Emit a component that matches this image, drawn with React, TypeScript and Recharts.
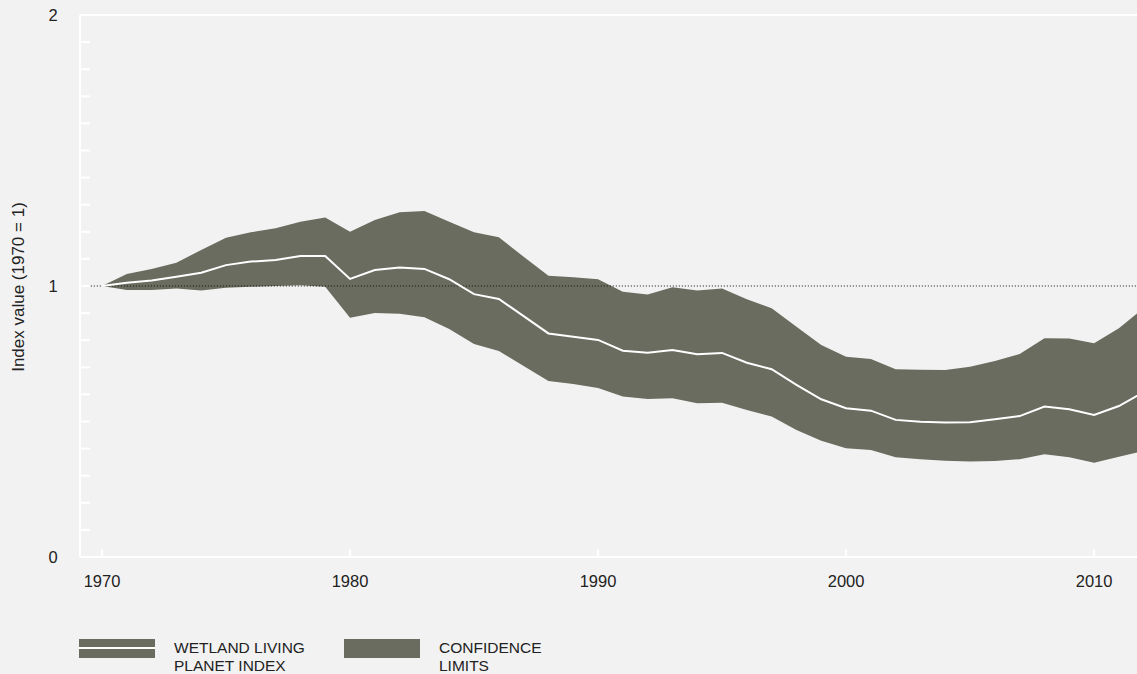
import {
  ComposedChart,
  Area,
  Line,
  XAxis,
  YAxis,
  ReferenceLine
} from "recharts"

// values, one entry per year
const years = [
  1970, 1971, 1972, 1973, 1974, 1975, 1976, 1977, 1978, 1979,
  1980, 1981, 1982, 1983, 1984, 1985, 1986, 1987, 1988, 1989,
  1990, 1991, 1992, 1993, 1994, 1995, 1996, 1997, 1998, 1999,
  2000, 2001, 2002, 2003, 2004, 2005, 2006, 2007, 2008, 2009,
  2010, 2011, 2012
]

const wetlandIndex = [
  1.0, 1.012, 1.02, 1.034, 1.049, 1.077, 1.09, 1.096, 1.111, 1.111,
  1.026, 1.059, 1.068, 1.063, 1.025, 0.97, 0.952, 0.889, 0.825, 0.813,
  0.801, 0.761, 0.754, 0.764, 0.748, 0.753, 0.717, 0.693, 0.635, 0.582,
  0.549, 0.54, 0.506, 0.499, 0.496, 0.497, 0.508, 0.52, 0.555, 0.545,
  0.524, 0.557, 0.608
]

const upperLimit = [
  1.0, 1.044, 1.063, 1.086, 1.133, 1.178, 1.198, 1.213, 1.237, 1.253,
  1.2, 1.244, 1.272, 1.277, 1.237, 1.198, 1.18, 1.108, 1.038, 1.032,
  1.025, 0.979, 0.969, 0.995, 0.983, 0.991, 0.951, 0.918, 0.85, 0.782,
  0.739, 0.731, 0.693, 0.691, 0.69, 0.702, 0.723, 0.749, 0.807, 0.806,
  0.789, 0.844, 0.919
]

const lowerLimit = [
  1.0, 0.985, 0.985, 0.991, 0.983, 0.994, 0.997, 1.0, 1.003, 0.997,
  0.883, 0.9, 0.898, 0.885, 0.841, 0.786, 0.76, 0.705, 0.649, 0.638,
  0.624, 0.592, 0.583, 0.586, 0.567, 0.569, 0.542, 0.518, 0.469, 0.429,
  0.401, 0.395, 0.368, 0.361, 0.355, 0.352, 0.354, 0.361, 0.379, 0.368,
  0.348, 0.37, 0.391
]

const xTicks = [1970, 1980, 1990, 2000, 2010]
const yTicks = [
  0, 0.1, 0.2, 0.3, 0.4, 0.5, 0.6, 0.7, 0.8, 0.9,
  1, 1.1, 1.2, 1.3, 1.4, 1.5, 1.6, 1.7, 1.8, 1.9, 2
]
const yLabels = [0, 1, 2]

const data = years.map((year, i) => ({
  year,
  index: wetlandIndex[i],
  range: [lowerLimit[i], upperLimit[i]]
}))

const BAND = "#696c5e"
const TEXT = "#222"
const FONT = "'Liberation Sans', Arial, Helvetica, sans-serif"
const AXIS_X = 80
const AXIS_BOTTOM = 557

function YTick({ y, payload }: any) {
  const v = payload.value
  return (
    <g>
      <line x1={AXIS_X} x2={AXIS_X + 10} y1={y} y2={y} stroke="#fff" strokeWidth={2} />
      {yLabels.includes(v) && (
        <text
          x={53}
          y={y}
          dy="0.36em"
          textAnchor="middle"
          fill={TEXT}
          fontSize={16.5}
          fontFamily={FONT}
        >
          {v}
        </text>
      )}
    </g>
  )
}

function XTick({ x, payload }: any) {
  return (
    <g>
      <line x1={x} x2={x} y1={AXIS_BOTTOM} y2={AXIS_BOTTOM - 8} stroke="#fff" strokeWidth={2} />
      <text
        x={x}
        y={587}
        textAnchor="middle"
        fill={TEXT}
        fontSize={16.5}
        fontFamily={FONT}
      >
        {payload.value}
      </text>
    </g>
  )
}

function YTitle() {
  return (
    <text
      x={18}
      y={287}
      transform="rotate(-90 18 287)"
      textAnchor="middle"
      dominantBaseline="central"
      fill={TEXT}
      fontSize={17}
      fontFamily={FONT}
    >
      Index value (1970 = 1)
    </text>
  )
}

const legendText = {
  position: "absolute" as const,
  top: 639,
  fontSize: 15.5,
  lineHeight: "18px",
  color: TEXT,
  fontFamily: FONT
}

export default function App() {
  return (
    <div
      style={{
        position: "fixed",
        left: 0,
        top: 0,
        width: 1137,
        height: 674,
        overflow: "hidden",
        background: "#f2f2f2"
      }}
    >
      <ComposedChart
        width={1137}
        height={674}
        data={data}
        margin={{ top: 15, right: 0, bottom: 87, left: 0 }}
      >
        <XAxis
          dataKey="year"
          type="number"
          domain={[1969.113, 2011.73]}
          allowDataOverflow
          ticks={xTicks}
          height={30}
          axisLine={{ stroke: "#fff", strokeWidth: 2 }}
          tickLine={false}
          tick={<XTick />}
        />
        <YAxis
          type="number"
          domain={[0, 2]}
          ticks={yTicks}
          interval={0}
          width={80}
          axisLine={{ stroke: "#fff", strokeWidth: 2 }}
          tickLine={false}
          tick={<YTick />}
          label={<YTitle />}
        />
        <ReferenceLine y={2} stroke="#fff" strokeWidth={2} />
        <Area
          dataKey="range"
          type="linear"
          fill={BAND}
          fillOpacity={1}
          stroke="none"
          dot={false}
          activeDot={false}
          isAnimationActive={false}
        />
        <ReferenceLine
          segment={[{ x: 1969.55, y: 1 }, { x: 2011.73, y: 1 }]}
          stroke="#111"
          strokeWidth={1}
          strokeDasharray="1 2"
        />
        <Line
          dataKey="index"
          type="linear"
          stroke="#fff"
          strokeWidth={2}
          dot={false}
          activeDot={false}
          isAnimationActive={false}
        />
      </ComposedChart>

      <div style={{ position: "absolute", left: 79, top: 639, width: 76, height: 19, background: BAND }}>
        <div style={{ position: "absolute", left: 0, top: 8, width: 76, height: 2, background: "#fff" }} />
      </div>
      <div style={{ ...legendText, left: 174 }}>
        WETLAND LIVING
        <br />
        PLANET INDEX
      </div>

      <div style={{ position: "absolute", left: 344, top: 639, width: 76, height: 19, background: BAND }} />
      <div style={{ ...legendText, left: 439 }}>
        CONFIDENCE
        <br />
        LIMITS
      </div>
    </div>
  )
}
